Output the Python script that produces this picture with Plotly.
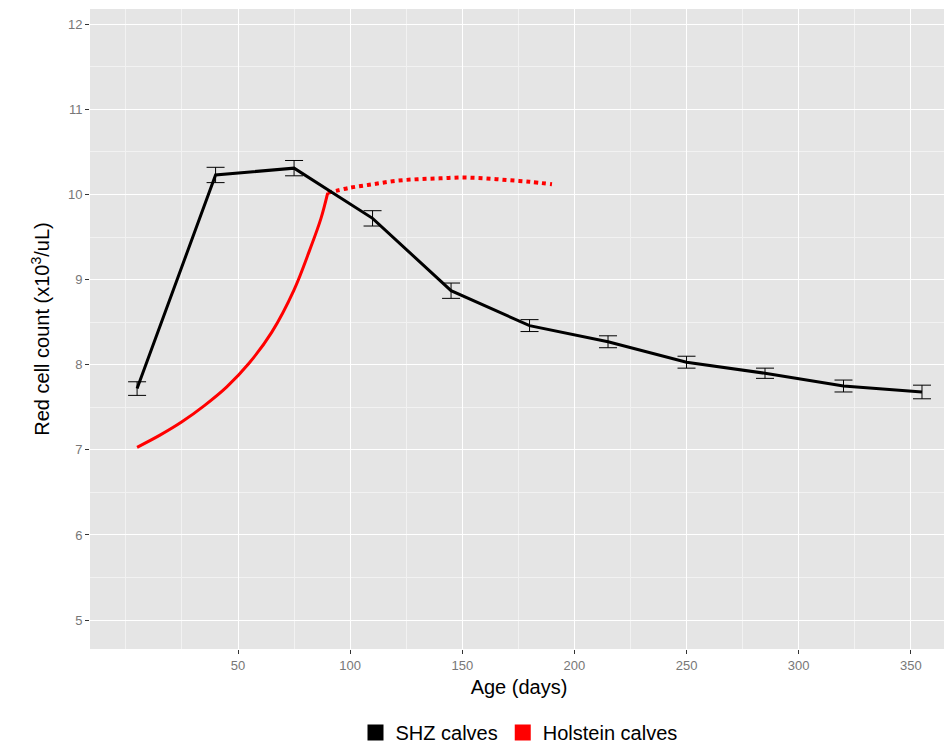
import plotly.graph_objects as go

# SHZ calves: mean red cell count with standard error
shz_age = [5, 40, 75, 110, 145, 180, 215, 250, 285, 320, 355]
shz_rbc = [7.72, 10.23, 10.31, 9.72, 8.87, 8.46, 8.27, 8.03, 7.90, 7.75, 7.68]
shz_se = [0.08, 0.09, 0.09, 0.09, 0.09, 0.07, 0.07, 0.07, 0.06, 0.07, 0.08]

# Holstein calves reference curve (solid up to 90 d, dotted after)
hol_age = [5, 15, 25, 35, 45, 55, 65, 75, 82, 87, 90]
hol_rbc = [7.03, 7.17, 7.33, 7.52, 7.74, 8.02, 8.38, 8.88, 9.35, 9.72, 10.02]
hol_age2 = [90, 100, 110, 120, 130, 140, 150, 160, 170, 180, 190]
hol_rbc2 = [10.02, 10.08, 10.12, 10.16, 10.18, 10.19, 10.2, 10.19, 10.17, 10.15, 10.12]

fig = go.Figure()
fig.add_trace(go.Scatter(x=hol_age, y=hol_rbc, mode="lines",
                         line=dict(color="red", width=3, shape="spline"), showlegend=False))
fig.add_trace(go.Scatter(x=hol_age2, y=hol_rbc2, mode="lines",
                         line=dict(color="red", width=4, dash="dot", shape="spline"), showlegend=False))
fig.add_trace(go.Scatter(x=shz_age, y=shz_rbc, mode="lines", line=dict(color="black", width=3),
                         error_y=dict(type="data", array=shz_se, color="black", thickness=1, width=9),
                         showlegend=False))

# legend keys
fig.add_trace(go.Scatter(x=[None], y=[None], mode="markers", name="SHZ calves",
                         marker=dict(symbol="square", size=20, color="black")))
fig.add_trace(go.Scatter(x=[None], y=[None], mode="markers", name="Holstein calves",
                         marker=dict(symbol="square", size=20, color="red")))

axis_common = dict(showgrid=True, gridcolor="white", gridwidth=1.3, zeroline=False,
                   ticks="outside", ticklen=4, tickcolor="#333", tickfont=dict(size=13, color="#777"),
                   minor=dict(showgrid=True, gridcolor="#f2f2f2", gridwidth=0.6))
fig.update_xaxes(range=[-16, 366.6], tickvals=[50, 100, 150, 200, 250, 300, 350],
                 minor_tickvals=[0, 25, 75, 125, 175, 225, 275, 325],
                 title=dict(text="Age (days)", font=dict(size=20, color="black"), standoff=8),
                 **axis_common)
fig.update_yaxes(range=[4.66, 12.18], dtick=1, minor_dtick=0.5,
                 title=dict(text="Red cell count (x10<sup>3</sup>/uL)", font=dict(size=20, color="black"),
                            standoff=12),
                 **axis_common)

fig.update_layout(
    width=952, height=745,
    plot_bgcolor="#e5e5e5", paper_bgcolor="white",
    font=dict(family="Liberation Sans, Arial, sans-serif"),
    margin=dict(l=82, r=12, t=1, b=88),
    legend=dict(orientation="h", x=0.5, xanchor="center", y=-0.1, yanchor="top",
                font=dict(size=20, color="black")),
)

fig.write_html("out.html")
